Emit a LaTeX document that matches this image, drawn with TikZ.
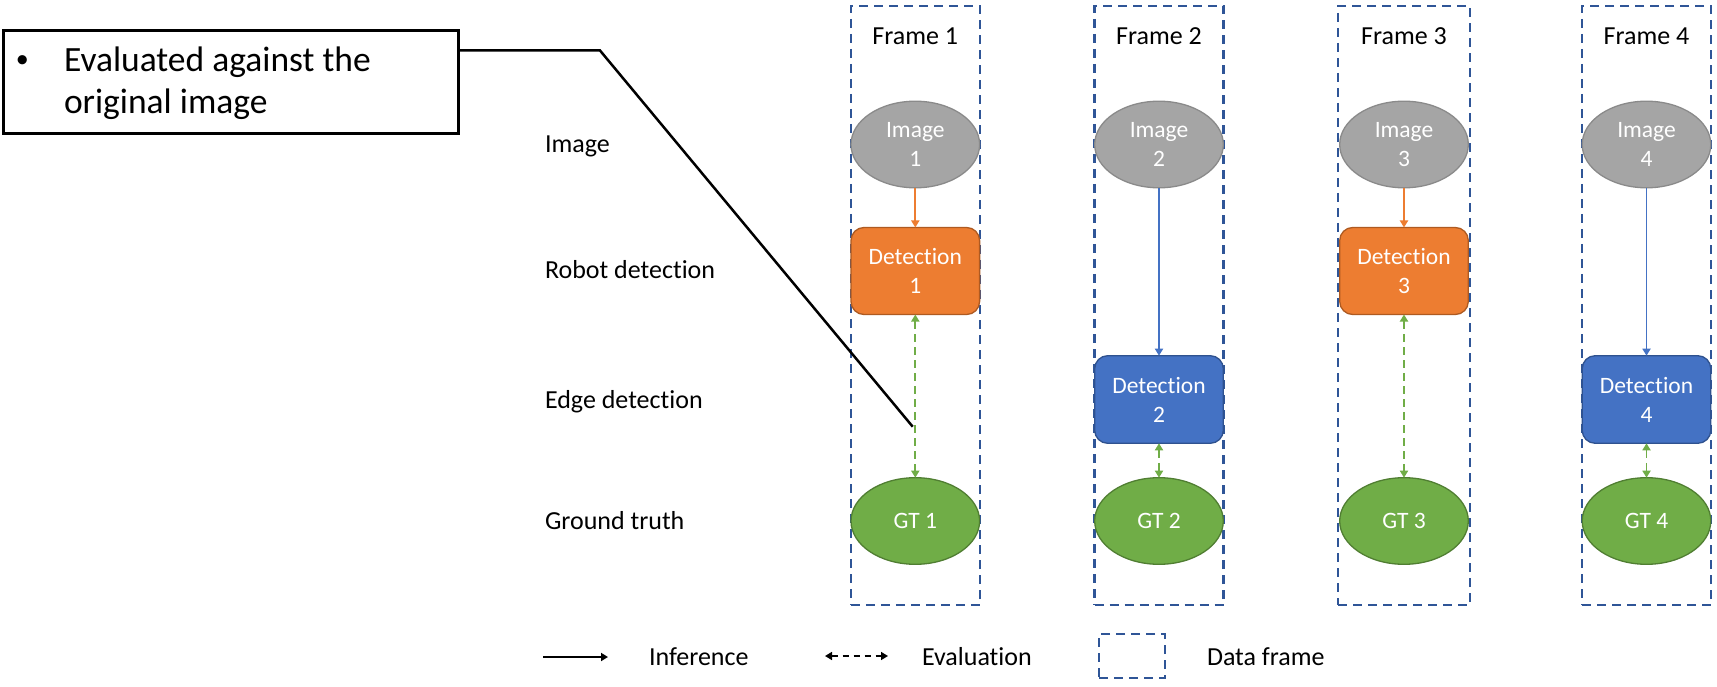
\documentclass[tikz,border=0pt]{standalone}
\usepackage{fontspec}
\setmainfont[Ligatures={NoCommon}]{Carlito}
\usetikzlibrary{shapes.geometric,arrows.meta}
\definecolor{imgfill}{HTML}{A5A5A5}
\definecolor{imgline}{HTML}{8A8A8A}
\definecolor{orfill}{HTML}{ED7D31}
\definecolor{orline}{HTML}{AE5A21}
\definecolor{blfill}{HTML}{4472C4}
\definecolor{blline}{HTML}{2F528F}
\definecolor{grfill}{HTML}{70AD47}
\definecolor{grline}{HTML}{507E32}
\definecolor{framecol}{HTML}{2F5597}
\tikzset{
  every node/.style={inner sep=0pt, outer sep=0pt},
  nodetext/.style={text=white, align=center, font=\fontsize{23.5}{29}\selectfont},
  imgnode/.style={ellipse, nodetext, fill=imgfill, draw=imgline, line width=1.3pt, minimum width=128.6pt, minimum height=86.6pt},
  gtnode/.style={ellipse, nodetext, fill=grfill, draw=grline, line width=1.3pt, minimum width=128.6pt, minimum height=86.6pt},
  detor/.style={rectangle, rounded corners=13pt, nodetext, fill=orfill, draw=orline, line width=1.3pt, minimum width=128.6pt, minimum height=87pt},
  detbl/.style={rectangle, rounded corners=13pt, nodetext, fill=blfill, draw=blline, line width=1.3pt, minimum width=128.6pt, minimum height=87.6pt},
  framebox/.style={rectangle, draw=framecol, line width=2.4pt, dash pattern=on 9pt off 6pt, minimum width=129pt, minimum height=599pt},
  legbox/.style={rectangle, draw=framecol, line width=2.4pt, dash pattern=on 9pt off 6pt, minimum width=66pt, minimum height=44pt},
  rowlabel/.style={anchor=base west, font=\fontsize{26}{31}\selectfont},
  ftitle/.style={anchor=base, font=\fontsize{26}{31}\selectfont},
  calltext/.style={anchor=base west, font=\fontsize{35.5}{42}\selectfont},
  infarrow/.style={line width=1.8pt, -{Triangle[width=8pt,length=7pt]}},
  evalarrow/.style={line width=1.8pt, draw=grfill, dash pattern=on 8pt off 5pt, {Triangle[width=8pt,length=7pt]}-{Triangle[width=8pt,length=7pt]}},
}
\begin{document}
\begin{tikzpicture}[x=1pt,y=-1pt]
\useasboundingbox (0,0) rectangle (1717,687);
% frames
\node[framebox] (f1) at (915.3,305.5) {};
\node[framebox] (f2) at (1159,305.5) {};
\node[framebox, minimum width=132pt] (f3) at (1404,305.5) {};
\node[framebox] (f4) at (1646.5,305.5) {};
\node[ftitle] (t1) at (915.3,45) {Frame 1};
\node[ftitle] (t2) at (1159,45) {Frame 2};
\node[ftitle] (t3) at (1404,45) {Frame 3};
\node[ftitle] (t4) at (1646.5,45) {Frame 4};
% row labels
\node[rowlabel] (l1) at (545,153) {Image};
\node[rowlabel] (l2) at (545,278.5) {Robot detection};
\node[rowlabel] (l3) at (545,408) {Edge detection};
\node[rowlabel] (l4) at (545,529) {Ground truth};
% nodes
\node[imgnode] (i1) at (915.3,144.5) {Image\\1};
\node[imgnode] (i2) at (1159,144.5) {Image\\2};
\node[imgnode] (i3) at (1404,144.5) {Image\\3};
\node[imgnode] (i4) at (1646.5,144.5) {Image\\4};
\node[detor] (d1) at (915.3,271) {Detection\\1};
\node[detbl] (d2) at (1159,399.5) {Detection\\2};
\node[detor] (d3) at (1404,271) {Detection\\3};
\node[detbl] (d4) at (1646.5,399.5) {Detection\\4};
\node[gtnode] (g1) at (915.3,521) {GT 1};
\node[gtnode] (g2) at (1159,521) {GT 2};
\node[gtnode] (g3) at (1404,521) {GT 3};
\node[gtnode] (g4) at (1646.5,521) {GT 4};
% connectors
\draw[infarrow, draw=orfill, color=orfill] (i1) -- (d1);
\draw[infarrow, draw=blfill, color=blfill] (i2) -- (d2);
\draw[infarrow, draw=orfill, color=orfill] (i3) -- (d3);
\draw[infarrow, draw=blfill, color=blfill] (i4) -- (d4);
\draw[evalarrow, color=grfill] (d1) -- (g1);
\draw[evalarrow, color=grfill] (d2) -- (g2);
\draw[evalarrow, color=grfill] (d3) -- (g3);
\draw[evalarrow, color=grfill] (d4) -- (g4);
% callout
\node[rectangle, draw=black, line width=3pt, minimum width=455pt, minimum height=103pt] (cbox) at (230.5,82.5) {};
\node[calltext, font=\fontsize{26}{30}\selectfont] (cb) at (16,68) {•};
\node[calltext] (ct1) at (64,72) {Evaluated against the};
\node[calltext] (ct2) at (64,113.5) {original image};
\coordinate (c1) at (cbox.east |- 0,50.5);
\coordinate (c2) at (600,50.5);
\coordinate (c3) at (912.7,426.7);
\draw[line width=2.5pt] (c1) -- (c2) -- (c3);
% legend
\coordinate (ia) at (543,657);
\coordinate (ib) at (608,657);
\draw[infarrow, draw=black, color=black] (ia) -- (ib);
\node[rowlabel] (li) at (649,665) {Inference};
\coordinate (ea) at (825,656);
\coordinate (eb) at (888,656);
\draw[evalarrow, draw=black, color=black, line width=1.6pt, dash pattern=on 6pt off 5pt] (ea) -- (eb);
\node[rowlabel] (le) at (922,665) {Evaluation};
\node[legbox] (lb) at (1132,656) {};
\node[rowlabel] (ld) at (1207,665) {Data frame};
\end{tikzpicture}
\end{document}
